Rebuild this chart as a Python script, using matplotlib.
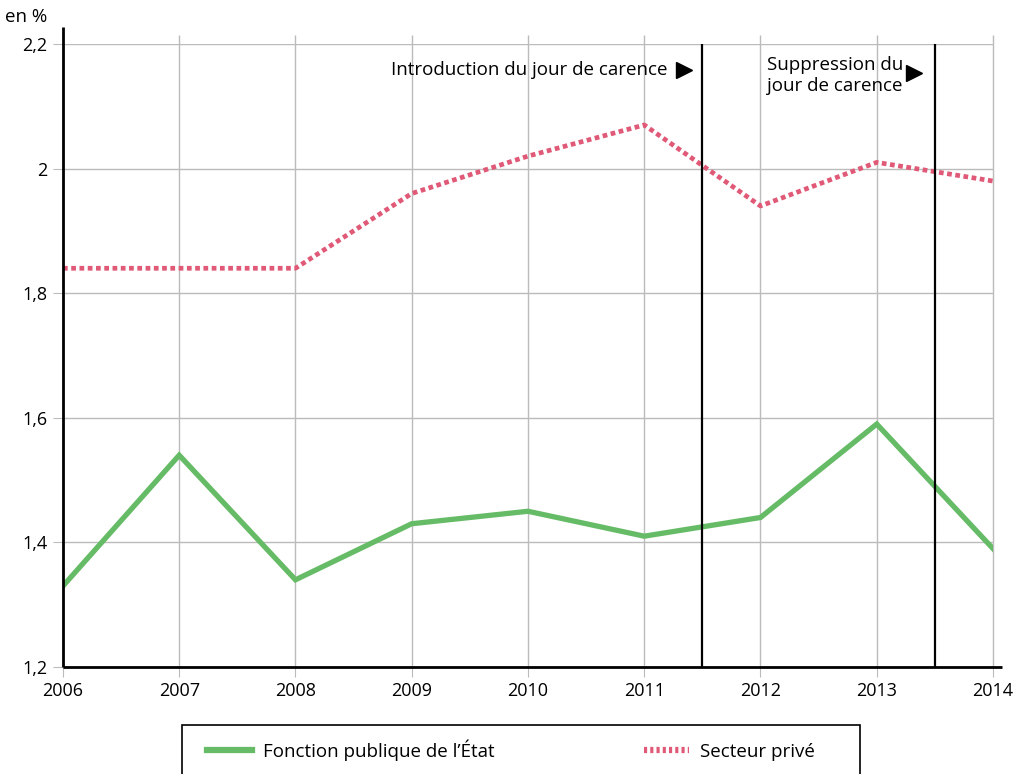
import matplotlib.pyplot as plt
from matplotlib.lines import Line2D
from matplotlib.patches import Rectangle

plt.rcParams['font.family'] = ['Open Sans', 'DejaVu Sans']

# data
years = [2006, 2007, 2008, 2009, 2010, 2011, 2012, 2013, 2014]
fonction_publique = [1.33, 1.54, 1.34, 1.43, 1.45, 1.41, 1.44, 1.59, 1.39]
secteur_prive = [1.84, 1.84, 1.84, 1.96, 2.02, 2.07, 1.94, 2.01, 1.98]
y_ticks = [1.2, 1.4, 1.6, 1.8, 2.0, 2.2]
y_labels = ["1,2", "1,4", "1,6", "1,8", "2", "2,2"]
events = [2011.5, 2013.5]
event_labels = ["Introduction du jour de carence", "Suppression du\njour de carence"]

green = "#66bb66"
pink = "#e05a78"
grey = "#bbbbbb"
fs = 13.5

fig = plt.figure(figsize=(10.27, 7.74), dpi=100)
ax = fig.add_axes([0.0613, 0.1382, 0.9056, 0.805])
ax.set_xlim(2006, 2014)
ax.set_ylim(1.2, 2.2)

# grid, with the vertical lines running a bit past the top like the original
ax.vlines(years, 1.2, 2.2145, color=grey, lw=1, clip_on=False, zorder=1)
ax.hlines(y_ticks, 2006, 2014, color=grey, lw=1, zorder=1)

ax.plot(years, fonction_publique, color=green, lw=3.8, solid_joinstyle="miter",
        label="Fonction publique de l\u2019\u00c9tat", zorder=3)
ax.plot(years, secteur_prive, color=pink, lw=3.4, linestyle=(0, (1, 0.75)),
        label="Secteur priv\u00e9", zorder=3)

for x in events:
    ax.axvline(x, color="black", lw=1.6, zorder=4)

ax.set_xticks(years)
ax.set_xticklabels([str(y) for y in years])
ax.set_yticks(y_ticks)
ax.set_yticklabels(y_labels)
ax.tick_params(axis="both", length=7, color=grey, labelsize=fs - 0.5, pad=4)
for s in ax.spines.values():
    s.set_visible(False)
# axis lines, slightly longer than the plot area
ax.plot([2006, 2006], [1.2, 2.227], color="black", lw=2, clip_on=False, zorder=5,
        solid_capstyle="butt")
ax.plot([2006, 2014.077], [1.2, 1.2], color="black", lw=2, clip_on=False, zorder=5,
        solid_capstyle="butt")

# annotations
ax.text(2011.2, 2.158, event_labels[0], ha="right", va="center", fontsize=fs)
ax.plot([2011.34], [2.158], marker=">", color="black", markersize=12, clip_on=False)
ax.text(2012.06, 2.15, event_labels[1], ha="left", va="center", fontsize=fs,
        linespacing=1.2)
ax.plot([2013.32], [2.153], marker=">", color="black", markersize=12, clip_on=False)

fig.text(0.005, 0.978, "en %", fontsize=fs, ha="left", va="center")

# legend box below the chart
fig.patches.append(Rectangle((182 / 1027, -0.05), (860 - 182) / 1027, 0.05 + 49 / 774,
                             transform=fig.transFigure, facecolor="none",
                             edgecolor="black", lw=1.2))
handles = [
    Line2D([], [], color=green, lw=4.5),
    Line2D([], [], color=pink, lw=4.5, linestyle=(0, (0.5, 0.5))),
]
leg = fig.legend(handles, ["Fonction publique de l\u2019\u00c9tat", "Secteur priv\u00e9"],
                 loc="center left", bbox_to_anchor=(207 / 1027, 1 - 750 / 774),
                 ncol=2, frameon=False, fontsize=fs, handlelength=2.4,
                 handletextpad=0.6, columnspacing=7.95, borderpad=0, borderaxespad=0)

fig.savefig("out.png", dpi=100)
